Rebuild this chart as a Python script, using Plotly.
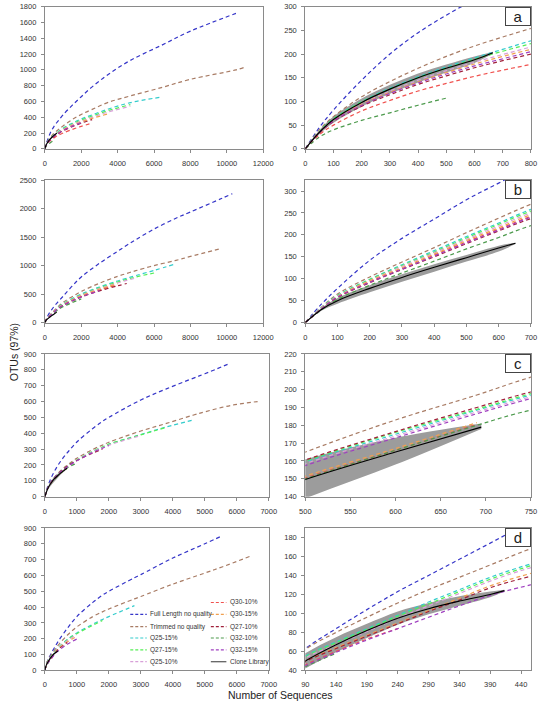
import plotly.graph_objects as go

W, H = 548, 707

NAMES = ["Full Length no quality", "Trimmed no quality", "Q25-15%", "Q27-15%", "Q25-10%",
         "Q30-10%", "Q30-15%", "Q27-10%", "Q32-10%", "Q32-15%", "Clone Library"]
COLORS = ["#3535C8", "#A87B64", "#33CCCC", "#55EE55", "#D8A0D8",
          "#F0524F", "#F0A050", "#A0203A", "#4C9A4C", "#A040C0", "#000000"]

# ---------------- panel a ----------------
A_X = [0, 50, 100, 200, 300, 400, 500, 600, 700, 800, 1000, 1500, 2000, 2600, 3500, 4700, 6400, 8000, 10500, 11000]
A_FULL = [0, 45, 82, 145, 200, 245, 282, 315, 345, 372, 430, 550, 660, 785, 945, 1120, 1310, 1490, 1715]
A_TRIM = [0, 40, 68, 110, 142, 170, 195, 217, 236, 254, 290, 370, 435, 500, 590, 670, 775, 880, 1000, 1035]
A_Q25_15 = [0, 37, 64, 100, 128, 152, 173, 192, 210, 228, 262, 325, 378, 430, 505, 585, 655]
A_Q27_15 = [0, 37, 63, 99, 126, 150, 170, 189, 206, 222, 254, 315, 365, 415, 485, 560]
A_Q25_10 = [0, 36, 61, 96, 122, 145, 165, 183, 199, 215, 246, 305, 352, 400, 468, 540]
A_Q30_10 = [0, 30, 50, 80, 102, 122, 138, 153, 166, 178, 200, 245, 285, 325]
A_Q30_15 = [0, 35, 60, 94, 119, 141, 161, 179, 195, 210, 240, 295, 340, 385, 445]
A_Q27_10 = [0, 34, 58, 90, 114, 136, 154, 171, 186, 200, 228, 280, 325, 370]
A_Q32_10 = [0, 25, 40, 60, 76, 92, 107]
A_Q32_15 = [0, 35, 59, 92, 117, 139, 158, 175, 190, 205, 233, 287, 330]
A_CLONE_X = [0, 50, 100, 200, 300, 400, 500, 600, 665]
A_CLONE_Y = [0, 35, 62, 98, 126, 150, 170, 188, 203]
A_CLONE_LO = [0, 31, 55, 89, 116, 140, 161, 181, 201]
A_CLONE_HI = [0, 39, 68, 106, 135, 159, 178, 195, 205]

# ---------------- panel b ----------------
B_X = [0, 50, 100, 200, 300, 400, 500, 600, 700, 1000, 1500, 2000, 3000, 4000, 4500, 5000, 6000, 7200, 8000, 9700, 10300]
B_FULL = [0, 42, 78, 142, 192, 236, 280, 318, 355, 460, 640, 800, 1040, 1250, 1355, 1455, 1640, 1830, 1940, 2175, 2260]
B_TRIM = [0, 35, 65, 104, 138, 171, 205, 238, 270, 355, 455, 545, 690, 810, 862, 910, 1000, 1090, 1160, 1300]
B_Q25_15 = [0, 34, 62, 99, 132, 164, 196, 227, 258, 330, 420, 500, 625, 730, 778, 825, 915, 1030]
B_Q27_15 = [0, 33, 61, 98, 130, 161, 193, 224, 254, 322, 410, 488, 610, 712, 757, 800, 870]
B_Q25_10 = [0, 33, 60, 96, 128, 159, 190, 220, 250, 316, 402, 478, 597, 695, 740, 780]
B_Q30_10 = [0, 31, 58, 93, 123, 154, 184, 213, 242, 306, 388, 460, 572, 665]
B_Q30_15 = [0, 32, 59, 95, 125, 156, 187, 216, 246, 311, 395, 469, 585, 680]
B_Q27_10 = [0, 31, 57, 91, 121, 150, 180, 209, 237, 298, 378, 448, 556, 645, 685]
B_Q32_10 = [0, 29, 53, 85, 113, 140, 168, 194, 221, 278, 350, 415]
B_Q32_15 = [0, 31, 58, 92, 122, 152, 182, 211, 240, 302, 382, 452, 560]
B_CLONE_X = [0, 50, 100, 200, 300, 400, 500, 600, 652]
B_CLONE_Y = [0, 30, 50, 78, 103, 126, 148, 170, 181]
B_CLONE_LO = [0, 27, 43, 69, 93, 116, 139, 162, 179]
B_CLONE_HI = [0, 33, 56, 85, 110, 133, 154, 175, 182]

# ---------------- panel c ----------------
C_X = [0, 100, 200, 300, 400, 500, 600, 690, 750, 1000, 1500, 1800, 2000, 3000, 3800, 4650, 5000, 5800, 6650]
C_FULL = [0, 70, 120, 160, 195, 225, 252, 274, 288, 345, 430, 475, 500, 610, 680, 748, 775, 842]
C_TRIM = [0, 59, 96, 122, 145, 165, 183, 197, 207, 242, 298, 325, 343, 414, 462, 515, 535, 575, 600]
C_Q25_15 = [0, 57, 93, 118, 140, 159.5, 175, 188.5, 197, 230, 285, 312, 330, 392, 440, 484]
C_Q27_15 = [0, 58, 93, 118, 141, 160, 176, 189, 197.8, 231, 286, 313, 331, 390, 437]
C_Q25_10 = [0, 57, 92, 117, 139, 158.5, 174, 187.5, 196, 228, 282, 308, 325, 385]
C_Q30_10 = [0, 54, 87, 111, 132, 150.5, 166, 180.5]
C_Q30_15 = [0, 55, 88, 112, 133, 151.5, 167, 181.5]
C_Q27_10 = [0, 58, 93, 119, 141, 160.5, 176.5, 190, 198.7, 228, 275, 300]
C_Q32_10 = [0, 54, 87, 111, 132, 150, 166, 180, 188.5, 210]
C_Q32_15 = [0, 57, 91, 116, 138, 157.4, 173, 186.5, 195, 226, 279, 305, 322]
C_CLONE_X = [0, 100, 200, 300, 400, 500, 600, 695]
C_CLONE_Y = [0, 55, 88, 113, 132, 149.6, 165, 179]
C_CLONE_LO = [0, 45, 72, 95, 118, 139, 158, 178]
C_CLONE_HI = [0, 62, 100, 126, 145, 161, 173, 181]

# ---------------- panel d ----------------
D_X = [0, 40, 90, 140, 190, 240, 290, 340, 390, 455, 700, 1000, 1500, 1800, 2000, 2800, 3000, 4000, 5000, 5560, 6420]
D_FULL = [0, 35, 63, 84, 104, 123, 140, 157, 174, 196, 265, 340, 430, 475, 500, 585, 605, 710, 800, 852]
D_TRIM = [0, 32, 62, 80, 96, 111, 125, 138, 151, 168, 222, 275, 340, 370, 388, 452, 467, 545, 615, 655, 721]
D_Q25_15 = [0, 30, 55, 70, 84, 98, 112, 125, 138, 152, 195, 237, 292, 322, 340, 409]
D_Q27_15 = [0, 30, 54, 69, 83, 97, 110, 123, 136, 150, 192, 232, 285, 315]
D_Q25_10 = [0, 29, 53, 67, 81, 95, 108, 121, 134, 148, 188, 225]
D_Q30_10 = [0, 28, 46, 60, 73, 84]
D_Q30_15 = [0, 29, 50, 64, 77, 90, 103, 116, 129, 142, 180, 215]
D_Q27_10 = [0, 28, 49, 63, 76, 89, 102, 114, 127, 139, 176]
D_Q32_10 = [0, 27, 44, 58]
D_Q32_15 = [0, 28, 45, 59, 72, 84, 96, 108, 119, 130, 165, 198]
D_CLONE_X = [0, 40, 90, 140, 190, 240, 290, 340, 390, 413]
D_CLONE_Y = [0, 30, 50, 67, 82, 95, 105, 113, 120, 124]
D_CLONE_LO = [0, 26, 42, 59, 74, 88, 99, 108, 117, 123]
D_CLONE_HI = [0, 34, 58, 75, 89, 102, 111, 118, 123, 125]

# axis ranges / ticks  (left panel, right panel)
LEFT_XRANGE = [[0, 12000], [0, 12000], [0, 7000], [0, 7000]]
LEFT_XDTICK = [2000, 2000, 1000, 1000]
LEFT_YRANGE = [[0, 1800], [0, 2500], [0, 900], [0, 900]]
LEFT_YDTICK = [200, 500, 100, 100]
RIGHT_XRANGE = [[0, 800], [0, 700], [500, 750], [90, 456]]
RIGHT_XDTICK = [100, 100, 50, 50]
RIGHT_YRANGE = [[0, 300], [0, 325], [140, 220], [40, 190]]
RIGHT_YDTICK = [50, 50, 10, 20]
LETTERS = ["a", "b", "c", "d"]

panels = [
    (A_X, [A_FULL, A_TRIM, A_Q25_15, A_Q27_15, A_Q25_10, A_Q30_10, A_Q30_15, A_Q27_10, A_Q32_10, A_Q32_15],
     A_CLONE_X, A_CLONE_Y, A_CLONE_LO, A_CLONE_HI),
    (B_X, [B_FULL, B_TRIM, B_Q25_15, B_Q27_15, B_Q25_10, B_Q30_10, B_Q30_15, B_Q27_10, B_Q32_10, B_Q32_15],
     B_CLONE_X, B_CLONE_Y, B_CLONE_LO, B_CLONE_HI),
    (C_X, [C_FULL, C_TRIM, C_Q25_15, C_Q27_15, C_Q25_10, C_Q30_10, C_Q30_15, C_Q27_10, C_Q32_10, C_Q32_15],
     C_CLONE_X, C_CLONE_Y, C_CLONE_LO, C_CLONE_HI),
    (D_X, [D_FULL, D_TRIM, D_Q25_15, D_Q27_15, D_Q25_10, D_Q30_10, D_Q30_15, D_Q27_10, D_Q32_10, D_Q32_15],
     D_CLONE_X, D_CLONE_Y, D_CLONE_LO, D_CLONE_HI),
]

# pixel geometry of plot boxes
ROW_PX = [(2.7, 146.7), (178.3, 322.7), (354.5, 499), (530.7, 675)]
LEFT_PX = [(40, 265), (40, 265), (40, 270.7), (40, 270.7)]
RIGHT_PX = (308.3, 540.7)
DASH = "4px,3px"
FONT = "Liberation Sans, Arial, sans-serif"

fig = go.Figure()
layout = {}


def ydom(top, bot):
    return [1 - bot / H, 1 - top / H]


def axis_style(rng, dtick, dom, anchor, is_x, tick0=None):
    d = dict(range=rng, dtick=dtick, domain=dom, anchor=anchor, showgrid=False, zeroline=False,
             showline=True, mirror=True, linecolor="#8a8a8a", linewidth=1, ticks="outside",
             ticklen=3, tickcolor="#8a8a8a", tickformat="d",
             ticklabelstandoff=4 if is_x else 3,
             tickfont=dict(size=7.5, color="#333", family=FONT))
    if tick0 is not None:
        d["tick0"] = tick0
    return d


for i, (gx, series, cx, cy, clo, chi) in enumerate(panels):
    top, bot = ROW_PX[i]
    for side in range(2):
        k = 2 * i + side + 1
        xa = "x" if k == 1 else f"x{k}"
        ya = "y" if k == 1 else f"y{k}"
        xkey = "xaxis" if k == 1 else f"xaxis{k}"
        ykey = "yaxis" if k == 1 else f"yaxis{k}"
        if side == 0:
            xdom = [LEFT_PX[i][0] / W, LEFT_PX[i][1] / W]
            layout[xkey] = axis_style(LEFT_XRANGE[i], LEFT_XDTICK[i], xdom, ya, True)
            layout[ykey] = axis_style(LEFT_YRANGE[i], LEFT_YDTICK[i], ydom(top, bot), xa, False)
        else:
            xdom = [RIGHT_PX[0] / W, RIGHT_PX[1] / W]
            layout[xkey] = axis_style(RIGHT_XRANGE[i], RIGHT_XDTICK[i], xdom, ya, True,
                                      tick0=RIGHT_XRANGE[i][0])
            yr = RIGHT_YRANGE[i]
            ya_style = axis_style(yr, RIGHT_YDTICK[i], ydom(top, bot), xa, False, tick0=yr[0])
            if i == 1:
                ya_style["tickvals"] = [0, 50, 100, 150, 200, 250, 300]
            layout[ykey] = ya_style
        # clone library confidence band
        fig.add_trace(go.Scatter(x=cx, y=clo, xaxis=xa, yaxis=ya, mode="lines",
                                 line=dict(width=0, color="#999999", shape="spline"),
                                 showlegend=False, hoverinfo="skip"))
        fig.add_trace(go.Scatter(x=cx, y=chi, xaxis=xa, yaxis=ya, mode="lines", fill="tonexty",
                                 fillcolor="#9c9c9c", line=dict(width=0, color="#999999", shape="spline"),
                                 showlegend=False, hoverinfo="skip"))
        for j, ys in enumerate(series):
            fig.add_trace(go.Scatter(x=gx[:len(ys)], y=ys, xaxis=xa, yaxis=ya, mode="lines",
                                     name=NAMES[j],
                                     line=dict(color=COLORS[j], width=1.2, dash=DASH, shape="spline"),
                                     showlegend=False))
        fig.add_trace(go.Scatter(x=cx, y=cy, xaxis=xa, yaxis=ya, mode="lines", name=NAMES[10],
                                 line=dict(color="#000000", width=1.1, shape="spline"),
                                 showlegend=False))

annotations = []
shapes = []
# panel letters
for i in range(4):
    top, bot = ROW_PX[i]
    annotations.append(dict(text=LETTERS[i], xref="paper", yref="paper", x=RIGHT_PX[1] / W,
                            y=1 - top / H, xanchor="right", yanchor="top", showarrow=False,
                            font=dict(size=15, color="#222", family=FONT), width=24, height=17,
                            borderpad=0, bordercolor="#444", borderwidth=1, bgcolor="white"))

# axis titles
annotations.append(dict(text="OTUs (97%)", xref="paper", yref="paper", x=8 / W, y=1 - 353 / H,
                        xanchor="center", yanchor="middle",
                        textangle=-90, showarrow=False, font=dict(size=10.5, color="#222", family=FONT)))
annotations.append(dict(text="Number of Sequences", xref="paper", yref="paper", x=282 / W, y=1 - 700 / H,
                        xanchor="center", yanchor="middle",
                        showarrow=False, font=dict(size=10.5, color="#222", family=FONT)))

# legend (two columns inside the bottom-left panel)
LEG_LEFT = [(0, 618.3), (1, 630.7), (2, 642.2), (3, 654.3), (4, 666.2)]
LEG_RIGHT = [(5, 606.2), (6, 618.3), (7, 630.7), (8, 642.2), (9, 654.3), (10, 666.2)]
for items, x0, x1, xt in [(LEG_LEFT, 128, 145, 146.5), (LEG_RIGHT, 211, 227, 229)]:
    for j, ypx in items:
        yp = 1 - ypx / H
        if j == 10:
            ln = dict(color="#555555", width=1.2)
        else:
            ln = dict(color=COLORS[j], width=1.2, dash="3px,2px")
        shapes.append(dict(type="line", xref="paper", yref="paper", x0=x0 / W, x1=x1 / W, y0=yp, y1=yp, line=ln))
        annotations.append(dict(text=NAMES[j], xref="paper", yref="paper", x=xt / W, y=yp,
                                xanchor="left", yanchor="middle", showarrow=False,
                                font=dict(size=6.5, color="#333", family=FONT)))

fig.update_layout(width=W, height=H, margin=dict(l=0, r=0, t=0, b=0), paper_bgcolor="white",
                  plot_bgcolor="white", showlegend=False, annotations=annotations, shapes=shapes,
                  font=dict(family=FONT), **layout)

fig.write_html("out.html", config={"displayModeBar": False},
               post_script="document.body.style.margin='0';document.body.style.overflow='hidden';")
